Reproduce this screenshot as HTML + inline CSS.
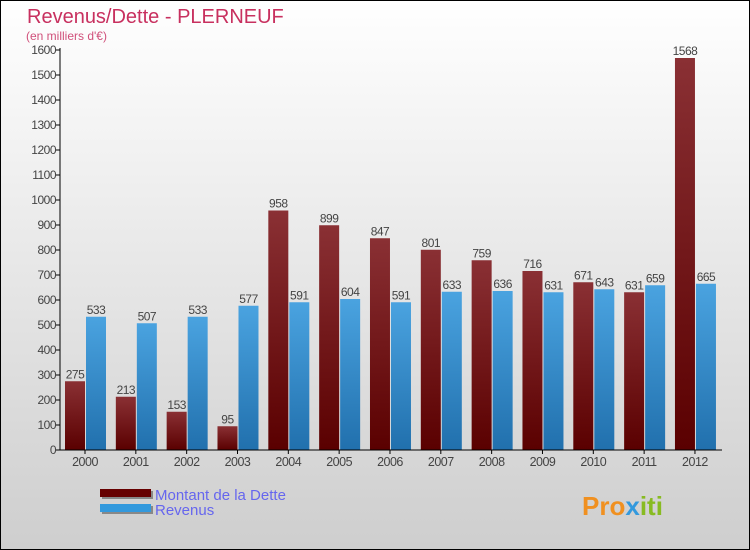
<!DOCTYPE html>
<html><head><meta charset="utf-8"><style>
body{margin:0}
svg{display:block;font-family:"Liberation Sans",sans-serif}
</style></head><body>
<svg id="c" width="750" height="550">
<defs>
<linearGradient id="bg" x1="0" y1="0" x2="0" y2="1"><stop offset="0" stop-color="#ffffff"/><stop offset="1" stop-color="#cecece"/></linearGradient>
<linearGradient id="gd" x1="0" y1="0" x2="0" y2="1"><stop offset="0" stop-color="#8a3034"/><stop offset="1" stop-color="#5a0000"/></linearGradient>
<linearGradient id="gr" x1="0" y1="0" x2="0" y2="1"><stop offset="0" stop-color="#4aa3e0"/><stop offset="1" stop-color="#2170ad"/></linearGradient>
</defs>
<rect x="0.5" y="0.5" width="749" height="549" fill="url(#bg)" stroke="#000"/>
<text x="27" y="23" font-size="20" fill="#c8305f">Revenus/Dette - PLERNEUF</text>
<text x="26" y="40" font-size="12" fill="#d0507a">(en milliers d'€)</text>
<g id="plot"></g>
<g>
<rect x="102" y="491" width="51" height="8" fill="#888"/><rect x="100" y="489" width="51" height="8" fill="#660000"/>
<text x="155" y="500" font-size="15" fill="#6666ee">Montant de la Dette</text>
<rect x="102" y="506" width="51" height="8" fill="#888"/><rect x="100" y="504" width="51" height="8" fill="#3399dd"/>
<text x="155" y="515" font-size="15" fill="#6666ee">Revenus</text>
</g>
<text x="582" y="515" font-size="26" font-weight="bold" fill="#f09020">Pro<tspan fill="#3399dd">x</tspan><tspan fill="#88bb22">iti</tspan></text>
</svg>
<script>
const years=["2000","2001","2002","2003","2004","2005","2006","2007","2008","2009","2010","2011","2012"];
const dette=[275,213,153,95,958,899,847,801,759,716,671,631,1568];
const revenus=[533,507,533,577,591,604,591,633,636,631,643,659,665];
const yTicks=[0,100,200,300,400,500,600,700,800,900,1000,1100,1200,1300,1400,1500,1600];
const NS="http://www.w3.org/2000/svg";
const g=document.getElementById('plot');
const y=v=>450-v*0.25;
const x=i=>85+i*50.83;
function mk(t,a,p){const e=document.createElementNS(NS,t);for(const k in a)e.setAttribute(k,a[k]);(p||g).appendChild(e);return e;}
yTicks.forEach(v=>{
 const l=mk('line',{x1:56,x2:60,y1:y(v),y2:y(v),stroke:'#000'});
 
 
 const t=mk('text',{x:56,y:y(v)+4,'font-size':12,fill:'#444','text-anchor':'end','letter-spacing':'-0.5'});
 t.textContent=v;
 
 
});
years.forEach((yr,i)=>{
 const cx=x(i);
 const b1=mk('rect',{x:cx-20,y:y(dette[i]),width:20,height:450-y(dette[i]),fill:'url(#gd)'});
 
 
 const b2=mk('rect',{x:cx+1,y:y(revenus[i]),width:20,height:450-y(revenus[i]),fill:'url(#gr)'});
 
 
 const t1=mk('text',{x:cx-10,y:y(dette[i])-3,'font-size':12,fill:'#444','text-anchor':'middle','letter-spacing':'-0.5'});
 t1.textContent=dette[i];
 
 
 const t2=mk('text',{x:cx+11,y:y(revenus[i])-3,'font-size':12,fill:'#444','text-anchor':'middle','letter-spacing':'-0.5'});
 t2.textContent=revenus[i];
 
 
 const tk=mk('line',{x1:cx,x2:cx,y1:450,y2:454,stroke:'#000'});
 
 
 const xl=mk('text',{x:cx,y:466,'font-size':12.5,fill:'#444','text-anchor':'middle','letter-spacing':'-0.5'});
 xl.textContent=yr;
 
 
});
const ya=mk('line',{x1:60,x2:60,y1:48,y2:450,stroke:'#000'});


const xa=mk('line',{x1:60,x2:722,y1:450,y2:450,stroke:'#000'});


</script>
</body></html>
